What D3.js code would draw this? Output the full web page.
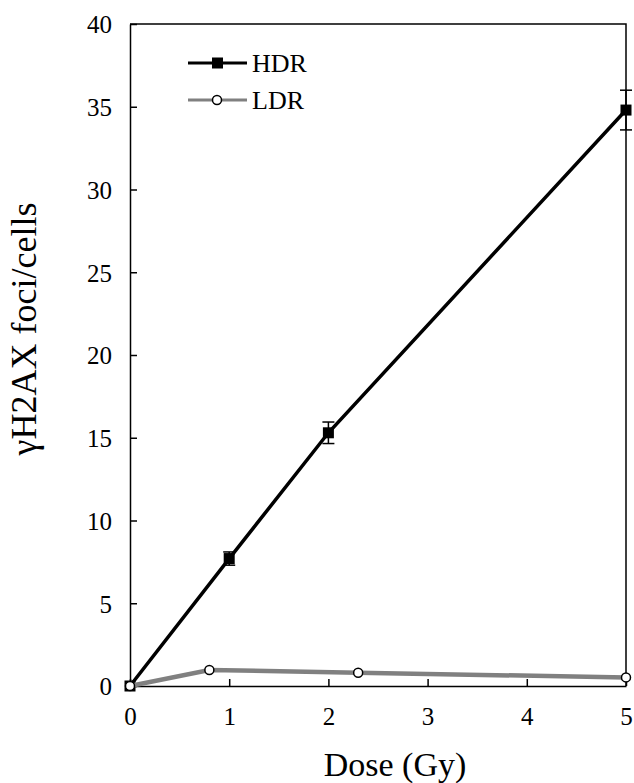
<!DOCTYPE html>
<html>
<head>
<meta charset="utf-8">
<script src="https://cdn.jsdelivr.net/npm/d3@7"></script>
<style>
  body { margin: 0; background: #fff; }
  svg { display: block; font-family: "Liberation Serif", "Times New Roman", serif; }
</style>
</head>
<body>
<div id="chart"></div>
<script>
// data
const hdrDose = [0, 1, 2, 5];
const hdrFoci = [0, 7.7, 15.3, 34.8];
const hdrErr = [0, 0.4, 0.65, 1.2];

const ldrDose = [0, 0.8, 2.3, 5];
const ldrFoci = [0, 0.97, 0.8, 0.52];

const xTicks = [0, 1, 2, 3, 4, 5];
const yTicks = [0, 5, 10, 15, 20, 25, 30, 35, 40];

const width = 634;
const height = 783;
const margin = { top: 24, right: 8, bottom: 97, left: 130 };

const svg = d3.select("#chart")
  .append("svg")
  .attr("width", width)
  .attr("height", height);

const x = d3.scaleLinear()
  .domain([0, 5])
  .range([margin.left, width - margin.right]);

const y = d3.scaleLinear()
  .domain([0, 40])
  .range([height - margin.bottom, margin.top]);

// frame (top + right)
svg.append("path")
  .attr("d", `M${x(0)},${y(40)}H${x(5)}V${y(0)}`)
  .attr("fill", "none")
  .attr("stroke", "#000")
  .attr("stroke-width", 1.5);

// axes with inward ticks
const xAxis = svg.append("g")
  .attr("transform", `translate(0,${y(0)})`)
  .call(d3.axisBottom(x).tickValues(xTicks).tickFormat(d3.format("d"))
    .tickSizeInner(-7).tickSizeOuter(0).tickPadding(21));

const yAxis = svg.append("g")
  .attr("transform", `translate(${x(0)},0)`)
  .call(d3.axisLeft(y).tickValues(yTicks).tickFormat(d3.format("d"))
    .tickSizeInner(-7).tickSizeOuter(0).tickPadding(18));

[xAxis, yAxis].forEach(function(g) {
  g.select(".domain").attr("stroke", "#000").attr("stroke-width", 1.5);
  g.selectAll(".tick line").attr("stroke", "#000").attr("stroke-width", 1.5);
  g.selectAll(".tick text")
    .attr("fill", "#000")
    .style("font-size", "25px")
    .style("font-family", "'Liberation Serif', 'Times New Roman', serif");
});
yAxis.selectAll(".tick text").attr("dy", "0.35em");

// axis titles
svg.append("text")
  .attr("x", 395)
  .attr("y", 776)
  .attr("text-anchor", "middle")
  .style("font-size", "34px")
  .text("Dose (Gy)");

svg.append("text")
  .attr("transform", "translate(36,329) rotate(-90)")
  .attr("text-anchor", "middle")
  .style("font-size", "36px")
  .text("γH2AX foci/cells");

const line = d3.line()
  .x(function(d) { return x(d[0]); })
  .y(function(d) { return y(d[1]); });

const hdr = hdrDose.map(function(d, i) { return [d, hdrFoci[i], hdrErr[i]]; });
const ldr = ldrDose.map(function(d, i) { return [d, ldrFoci[i]]; });

// HDR line
svg.append("path")
  .datum(hdr)
  .attr("d", line)
  .attr("fill", "none")
  .attr("stroke", "#000")
  .attr("stroke-width", 3.5);

// HDR error bars
const err = svg.append("g").selectAll("g")
  .data(hdr.filter(function(d) { return d[2] > 0; }))
  .join("g")
  .attr("stroke", "#000")
  .attr("stroke-width", 1.5);

err.append("line")
  .attr("x1", function(d) { return x(d[0]); })
  .attr("x2", function(d) { return x(d[0]); })
  .attr("y1", function(d) { return y(d[1] - d[2]); })
  .attr("y2", function(d) { return y(d[1] + d[2]); });

[-1, 1].forEach(function(s) {
  err.append("line")
    .attr("x1", function(d) { return x(d[0]) - 6; })
    .attr("x2", function(d) { return x(d[0]) + 6; })
    .attr("y1", function(d) { return y(d[1] + s * d[2]); })
    .attr("y2", function(d) { return y(d[1] + s * d[2]); });
});

// HDR squares
svg.append("g").selectAll("rect")
  .data(hdr)
  .join("rect")
  .attr("x", function(d) { return x(d[0]) - 5.5; })
  .attr("y", function(d) { return y(d[1]) - 5.5; })
  .attr("width", 11)
  .attr("height", 11)
  .attr("fill", "#000");

// LDR line
svg.append("path")
  .datum(ldr)
  .attr("d", line)
  .attr("fill", "none")
  .attr("stroke", "#808080")
  .attr("stroke-width", 4.5);

// LDR circles
svg.append("g").selectAll("circle")
  .data(ldr)
  .join("circle")
  .attr("cx", function(d) { return x(d[0]); })
  .attr("cy", function(d) { return y(d[1]); })
  .attr("r", 4.5)
  .attr("fill", "#fff")
  .attr("stroke", "#000")
  .attr("stroke-width", 1.5);

// legend
const legend = svg.append("g");

legend.append("line")
  .attr("x1", 188).attr("x2", 247).attr("y1", 63).attr("y2", 63)
  .attr("stroke", "#000").attr("stroke-width", 3);
legend.append("rect")
  .attr("x", 212).attr("y", 57.5).attr("width", 11).attr("height", 11)
  .attr("fill", "#000");
legend.append("text")
  .attr("x", 252).attr("y", 72)
  .style("font-size", "26px")
  .text("HDR");

legend.append("line")
  .attr("x1", 188).attr("x2", 247).attr("y1", 100).attr("y2", 100)
  .attr("stroke", "#808080").attr("stroke-width", 3);
legend.append("circle")
  .attr("cx", 217).attr("cy", 100).attr("r", 4.5)
  .attr("fill", "#fff").attr("stroke", "#000").attr("stroke-width", 1.5);
legend.append("text")
  .attr("x", 252).attr("y", 109)
  .style("font-size", "26px")
  .text("LDR");
</script>
</body>
</html>
